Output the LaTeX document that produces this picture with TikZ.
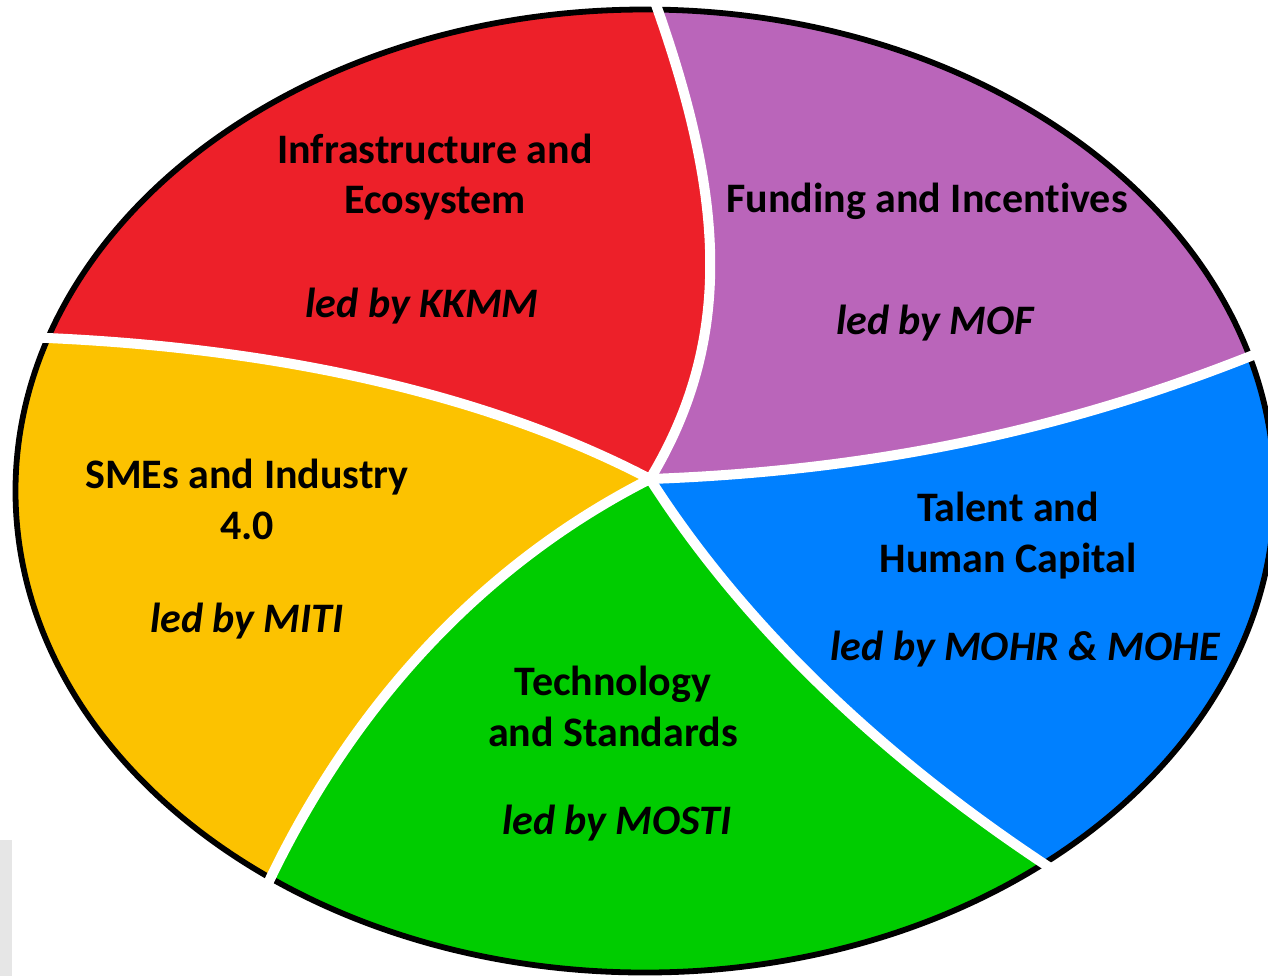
\documentclass[tikz,border=0pt]{standalone}
\usepackage{fontspec}
\setmainfont{Carlito}[Ligatures=CommonOff]
\definecolor{cred}{RGB}{237,32,41}
\definecolor{cpurple}{RGB}{186,101,186}
\definecolor{cyellow}{RGB}{252,194,0}
\definecolor{cgreen}{RGB}{0,204,0}
\definecolor{cblue}{RGB}{0,128,255}
\definecolor{cgray}{RGB}{230,230,230}
\begin{document}
\begin{tikzpicture}[x=0.5pt,y=-0.5pt,
  sep/.style={white,line width=5pt,line join=round},
  rim/.style={black,line width=2.9pt},
  lbl/.style={anchor=base,inner sep=0pt,font=\fontsize{21}{25}\selectfont\bfseries},
  lbli/.style={anchor=base,inner sep=0pt,font=\fontsize{21}{25}\selectfont\bfseries\itshape}]
\useasboundingbox (0,0) rectangle (1268,976);
\fill[cgray] (0,840) rectangle (12,976);
% hub and separator ends / control points
\coordinate (C) at (650,479);
\coordinate (T) at (650,-12);   \coordinate (Ta) at (740,330);  \coordinate (Tb) at (720,180);
\coordinate (L) at (-20,336);   \coordinate (La) at (250,340);  \coordinate (Lb) at (480,390);
\coordinate (M) at (258,905);   \coordinate (Ma) at (490,560);  \coordinate (Mb) at (350,700);
\coordinate (R) at (1290,340);  \coordinate (Ra) at (900,470);  \coordinate (Rb) at (1100,420);
\coordinate (S) at (1075,884);  \coordinate (Sa) at (740,620);  \coordinate (Sb) at (880,760);
\begin{scope}
  \clip (645,491) ellipse [x radius=314.75pt, y radius=240.75pt];
  \fill[cred] (-20,-40) -- (L) .. controls (La) and (Lb) .. (C)
     .. controls (Ta) and (Tb) .. (T) -- (650,-40) -- cycle;
  \fill[cpurple] (C) .. controls (Ta) and (Tb) .. (T) -- (650,-40) -- (1300,-40) -- (1300,330)
     -- (R) .. controls (Rb) and (Ra) .. (C) -- cycle;
  \fill[cblue] (C) .. controls (Ra) and (Rb) .. (R) -- (1300,1000) -- (S)
     .. controls (Sb) and (Sa) .. (C) -- cycle;
  \fill[cgreen] (C) .. controls (Sa) and (Sb) .. (S) -- (1075,1000) -- (258,1000) -- (M)
     .. controls (Mb) and (Ma) .. (C) -- cycle;
  \fill[cyellow] (C) .. controls (Ma) and (Mb) .. (M) -- (-20,905) -- (L)
     .. controls (La) and (Lb) .. (C) -- cycle;
\end{scope}
\draw[rim] (645,491) ellipse [x radius=314.75pt, y radius=240.75pt];
\draw[sep] (T) .. controls (Tb) and (Ta) .. (C);
\draw[sep] (L) .. controls (La) and (Lb) .. (C);
\draw[sep] (C) .. controls (Ma) and (Mb) .. (M);
\draw[sep] (C) .. controls (Ra) and (Rb) .. (R);
\draw[sep] (C) .. controls (Sa) and (Sb) .. (S);
% labels
\node[lbl] (i1) at (435,163) {Infrastructure and};
\node[lbl] (i2) at (435,213) {Ecosystem};
\node[lbli] (i3) at (422,317) {led by KKMM};
\node[lbl] (f1) at (927,212) {Funding and Incentives};
\node[lbli] (f2) at (935,334) {led by MOF};
\node[lbl] (s1) at (247,488) {SMEs and Industry};
\node[lbl] (s2) at (247,539) {4.0};
\node[lbli] (s3) at (247,632) {led by MITI};
\node[lbl] (h1) at (1008,521) {Talent and};
\node[lbl] (h2) at (1008,572) {Human Capital};
\node[lbli] (h3) at (1025,660) {led by MOHR \& MOHE};
\node[lbl] (g1) at (613,695) {Technology};
\node[lbl] (g2) at (613,746) {and Standards};
\node[lbli] (g3) at (617,834) {led by MOSTI};
\end{tikzpicture}
\end{document}
